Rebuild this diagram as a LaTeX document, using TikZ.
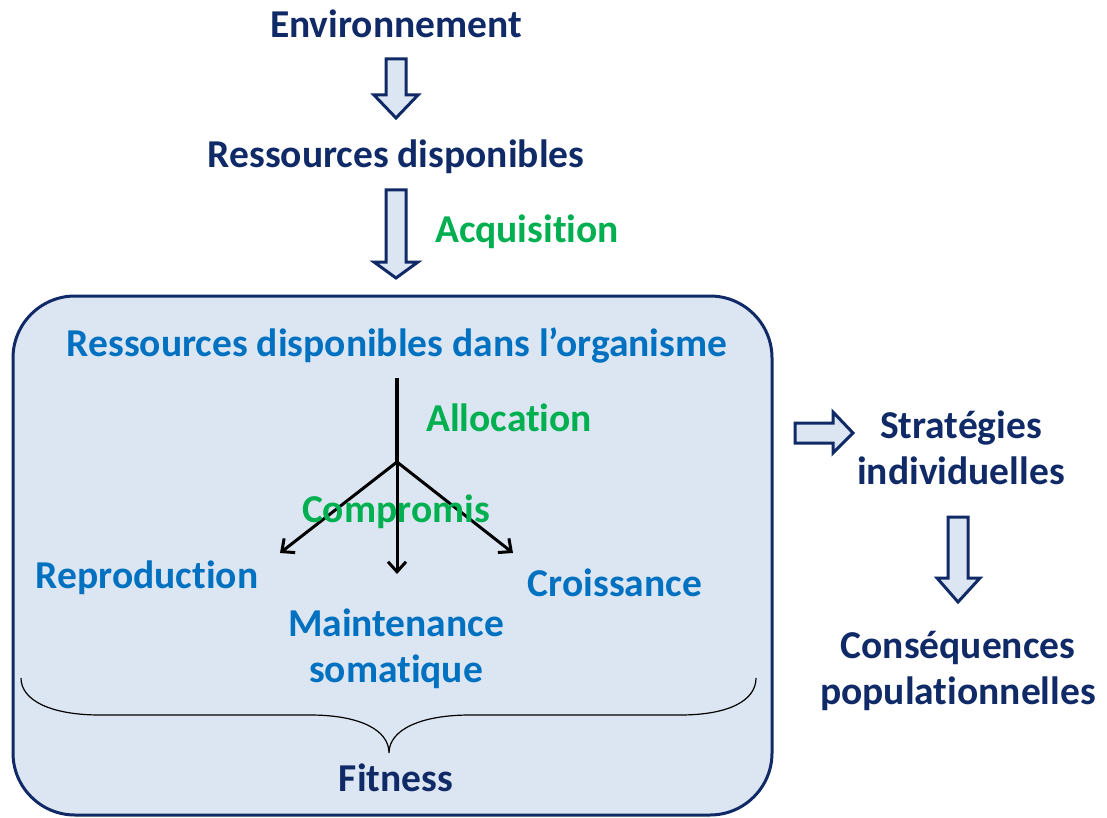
\documentclass[tikz,border=0pt]{standalone}
\usepackage{fontspec}
\setmainfont{Carlito}[Ligatures=NoCommon]
\usetikzlibrary{arrows.meta}
\definecolor{navy}{HTML}{0F2A66}
\definecolor{boxfill}{HTML}{DCE6F2}
\definecolor{inblue}{HTML}{0070C0}
\definecolor{ingreen}{HTML}{00B050}
\tikzset{
  lbl/.style={font=\fontsize{39.5}{46}\selectfont\bfseries, align=center, inner sep=0pt},
  outer/.style={lbl, text=navy},
  inner/.style={lbl, text=inblue},
  proc/.style={lbl, text=ingreen},
  blockarrow/.style={draw=navy, fill=boxfill, line width=3pt, line join=miter},
  branch/.style={line width=3pt, -{Straight Barb[length=10pt,width=18pt,line width=3pt]}},
}
\begin{document}
\begin{tikzpicture}[x=1pt,y=-1pt]
\useasboundingbox (0,0) rectangle (1107,818);
% organism box
\draw[draw=navy, fill=boxfill, line width=3pt, rounded corners=62pt] (13,296) rectangle (772,815);

% top chain
\node[outer] (env) at (396,24) {Environnement};
\node[outer] (res) at (396,157) {Ressources disponibles};
\draw[blockarrow] (386,59) -- (406,59) -- (406,95) -- (418,95) -- (396,118) -- (374,95) -- (386,95) -- cycle;
\draw[blockarrow] (386,190) -- (406,190) -- (406,262) -- (418,262) -- (396,278) -- (374,262) -- (386,262) -- cycle;
\node[proc] (acq) at (527,232) {Acquisition};

% inside the organism
\node[inner] (org) at (397,345) {Ressources disponibles dans l’organisme};
\coordinate (top) at (397,378);
\coordinate (fork) at (397,462);
\coordinate (ltip) at (280,553);
\coordinate (mtip) at (397,574);
\coordinate (rtip) at (513,553);
\draw[line width=4.5pt] (top) -- (fork);
\draw[branch] (fork) -- (ltip);
\draw[branch] (fork) -- (mtip);
\draw[branch] (fork) -- (rtip);
\node[proc] (alloc) at (509,418) {Allocation};
\node[proc] (comp) at (396,512) {Compromis};
\node[inner] (repro) at (147,578) {Reproduction};
\node[inner] (crois) at (615,583) {Croissance};
\node[inner] (maint) at (396,649) {Maintenance\\somatique};

% brace over the three functions
\coordinate (bl) at (21,678);
\coordinate (br) at (756,678);
\coordinate (btip) at (389,753);
\draw[line width=1.2pt] (bl) .. controls (21,700) and (50,715) .. (100,715)
  -- (310,715) .. controls (360,715) and (389,730) .. (btip)
  .. controls (389,730) and (420,715) .. (470,715)
  -- (680,715) .. controls (730,715) and (756,700) .. (br);
\node[outer] (fit) at (396,778) {Fitness};

% right column
\node[outer] (strat) at (961,448) {Stratégies\\individuelles};
\node[outer] (cons) at (958,671) {Conséquences\\populationnelles};
\draw[blockarrow] (795,423) -- (833,423) -- (833,412) -- (853,433) -- (833,453) -- (833,443) -- (795,443) -- cycle;
\draw[blockarrow] (948,517) -- (968,517) -- (968,578) -- (980,578) -- (958,602) -- (937,578) -- (948,578) -- cycle;
\end{tikzpicture}
\end{document}
